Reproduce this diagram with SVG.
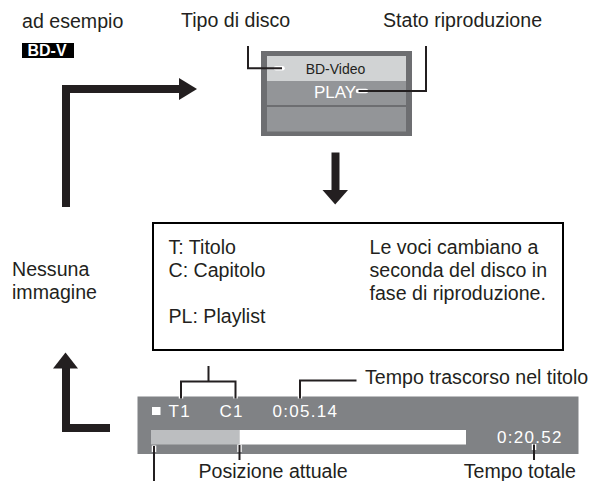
<svg xmlns="http://www.w3.org/2000/svg" width="599" height="481" viewBox="0 0 599 481">
<style>
text{font-family:"Liberation Sans",Arial,sans-serif;fill:#231f20}
.lbl{font-size:19.6px}
.bar{font-size:17px;fill:#ffffff;letter-spacing:1.3px}
.arrow{fill:none;stroke:#231f20;stroke-width:8;stroke-linejoin:miter;stroke-linecap:butt}
.head{fill:#231f20}
.halo{fill:none;stroke:#ffffff;stroke-width:4.5;stroke-linejoin:miter}
.lead{fill:none;stroke:#231f20;stroke-width:2;stroke-linejoin:miter}
</style>
<rect width="599" height="481" fill="#ffffff"/>

<g id="example">
<text class="lbl" x="22" y="28">ad esempio</text>
<rect x="22" y="43" width="52" height="15" fill="#000000"/>
<text x="27.5" y="56" style="font-size:16px;font-weight:bold;fill:#ffffff">BD-V</text>
</g>

<g id="display">
<rect x="261" y="51" width="151" height="85" fill="#6d6e71"/>
<rect x="267" y="56" width="139" height="25" fill="#d1d3d4"/>
<rect x="267" y="81" width="139" height="24" fill="#939598"/>
<rect x="267" y="107" width="139" height="24.5" fill="#939598"/>
<text x="335.5" y="73.5" text-anchor="middle" style="font-size:14px">BD-Video</text>
<text x="335" y="98" text-anchor="middle" style="font-size:17px;fill:#ffffff">PLAY</text>
</g>

<g id="disc-type-label">
<text class="lbl" x="181" y="27">Tipo di disco</text>
</g>
<g id="play-state-label">
<text class="lbl" x="383" y="27">Stato riproduzione</text>
</g>

<g id="info-box">
<rect x="153" y="223" width="410" height="127" fill="#ffffff" stroke="#000000" stroke-width="2"/>
<text class="lbl" x="168.5" y="253.5">T: Titolo</text>
<text class="lbl" x="168.5" y="276.8">C: Capitolo</text>
<text class="lbl" x="168.5" y="323.3">PL: Playlist</text>
<text class="lbl" x="369.5" y="253.5">Le voci cambiano a</text>
<text class="lbl" x="369.5" y="276.8">seconda del disco in</text>
<text class="lbl" x="369.5" y="300">fase di riproduzione.</text>
</g>

<g id="no-image">
<text class="lbl" x="12" y="276">Nessuna</text>
<text class="lbl" x="12" y="299">immagine</text>
</g>

<g id="status-bar">
<rect x="137.5" y="396.5" width="441" height="57.5" fill="#808285"/>
<rect x="151" y="430" width="88.5" height="14.5" fill="#bcbec0"/>
<rect x="239.5" y="430" width="226.5" height="14.5" fill="#ffffff"/>
<rect x="152" y="407" width="8.5" height="8" fill="#ffffff"/>
<text class="bar" x="168.5" y="416.5">T1</text>
<text class="bar" x="219.5" y="416.5">C1</text>
<text class="bar" x="272.5" y="416.5">0:05.14</text>
<text class="bar" x="497" y="442.5">0:20.52</text>
</g>

<g id="elapsed-label"><text class="lbl" x="365" y="384">Tempo trascorso nel titolo</text></g>
<g id="position-label"><text class="lbl" x="198.5" y="477.5">Posizione attuale</text></g>
<g id="total-label"><text class="lbl" x="576" y="477.5" text-anchor="end">Tempo totale</text></g>

<g id="connectors">
<path class="arrow" d="M66,207 V89 H180"/>
<polygon class="head" points="179,78 197,89 179,100"/>
<path class="arrow" d="M110,428 H66 V367"/>
<polygon class="head" points="53,368.5 65.5,352.5 78,368.5"/>
<path class="arrow" d="M335.5,152.5 V191"/>
<polygon class="head" points="322.5,190 348,190 335.2,204.5"/>

<line x1="276" y1="68.3" x2="282.5" y2="68.3" stroke="#ffffff" stroke-width="4.5" stroke-linecap="round"/>
<path class="lead" d="M248,46 V68.3 H282"/>
<line x1="358" y1="91" x2="366" y2="91" stroke="#ffffff" stroke-width="4.5" stroke-linecap="round"/>
<path class="lead" d="M426,46 V91 H358.5"/>

<path class="halo" d="M181,393 V398.5 M235.5,393 V398.5 M300,393 V398.5"/>
<path class="lead" d="M208.5,366 V381.5 M181,398.5 V381.5 H235.5 V398.5"/>
<path class="lead" d="M356.5,380.5 H300 V398.5"/>

<path class="halo" d="M154,445.5 V452 M239.5,444.5 V452 M534,444 V450"/>
<path class="lead" d="M154,446 V481"/>
<path class="lead" d="M239.5,445 V460"/>
<path class="lead" d="M534,444.5 V460"/>
</g>
</svg>
